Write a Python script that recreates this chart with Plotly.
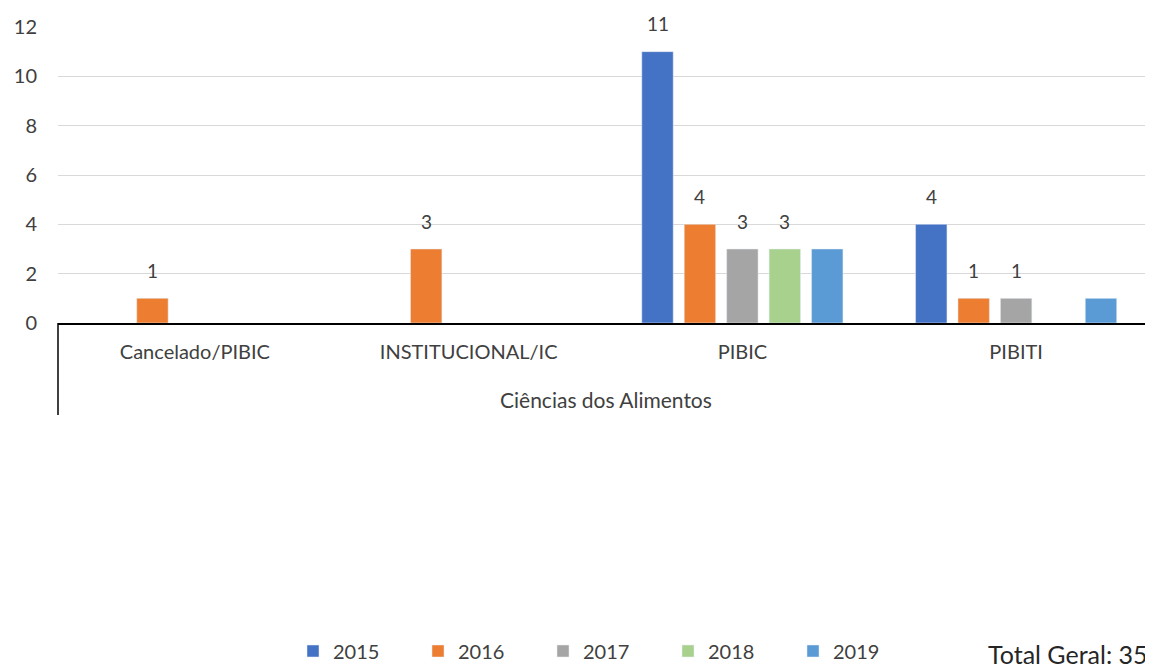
import plotly.graph_objects as go

# data
group = "Ciências dos Alimentos"
categories = ["Cancelado/PIBIC", "INSTITUCIONAL/IC", "PIBIC", "PIBITI"]
years = ["2015", "2016", "2017", "2018", "2019"]
v2015 = [None, None, 11, 4]
v2016 = [1, 3, 4, 1]
v2017 = [None, None, 3, 1]
v2018 = [None, None, 3, None]
v2019 = [None, None, 3, 1]
# labels shown in the chart (the PIBITI 2019 bar has no label)
lbl2015 = [None, None, 11, 4]
lbl2016 = [1, 3, 4, 1]
lbl2017 = [None, None, 3, 1]
lbl2018 = [None, None, 3, None]
lbl2019 = [None, None, None, None]
total = 35

series = [v2015, v2016, v2017, v2018, v2019]
labels = [lbl2015, lbl2016, lbl2017, lbl2018, lbl2019]
colors = ["#4472C4", "#ED7D31", "#A5A5A5", "#A9D18E", "#5B9BD5"]

FONT = "Lato, Carlito, Calibri, sans-serif"
TXT = "#404040"
PLOT_H = 296  # px height of plot area, used to place things below the axis

fig = go.Figure()
for yr, vals, col in zip(years, series, colors):
    fig.add_trace(go.Bar(name=yr, x=categories, y=vals, marker_color=col))

# value labels, placed over each bar slot
bargap = 0.225
slot = (1 - bargap) / len(years)
for i, lbls in enumerate(labels):
    off = (i - (len(years) - 1) / 2) * slot
    for j, v in enumerate(lbls):
        if v is None:
            continue
        fig.add_annotation(x=j + off, y=series[i][j], xref="x", yref="y",
                           text=str(v), showarrow=False, yanchor="middle",
                           yshift=28, font=dict(size=19, color=TXT))

# group label + left divider under the axis
fig.add_annotation(text=group, xref="paper", yref="paper", x=0.5,
                   y=-76 / PLOT_H, yanchor="middle", showarrow=False,
                   font=dict(size=21, color=TXT))
fig.add_shape(type="line", xref="paper", yref="paper", x0=0, x1=0,
              y0=0, y1=-92 / PLOT_H, line=dict(color="black", width=1.5))

fig.add_annotation(text=f"Total Geral: {total}", xref="paper", yref="paper",
                   x=1.0, xshift=-3, y=-331 / PLOT_H, xanchor="right",
                   yanchor="middle", showarrow=False,
                   font=dict(size=25, color="#262626"))

# page body has an 8px margin, so the figure is 8px smaller than the window
fig.update_layout(
    width=1145, height=661,
    margin=dict(l=50, r=0, t=19, b=346, autoexpand=False),
    paper_bgcolor="white", plot_bgcolor="white",
    barmode="group", bargap=bargap, bargroupgap=0.26,
    font=dict(family=FONT, size=20, color=TXT),
    showlegend=True,
    legend=dict(orientation="h", x=0.5, xanchor="center",
                y=-328 / PLOT_H, yanchor="middle",
                font=dict(size=20, color=TXT),
                entrywidth=80, entrywidthmode="pixels", traceorder="normal"),
)
fig.update_xaxes(type="category", showline=True, linecolor="black",
                 linewidth=1.5, showgrid=False, ticks="",
                 ticklabelstandoff=10, tickfont=dict(size=20, color=TXT))
fig.update_yaxes(range=[0, 12], dtick=2, showgrid=True, gridcolor="#D9D9D9",
                 zeroline=False, showline=False, ticklabelstandoff=20,
                 tickfont=dict(size=20, color=TXT))

fig.write_html("out.html")
